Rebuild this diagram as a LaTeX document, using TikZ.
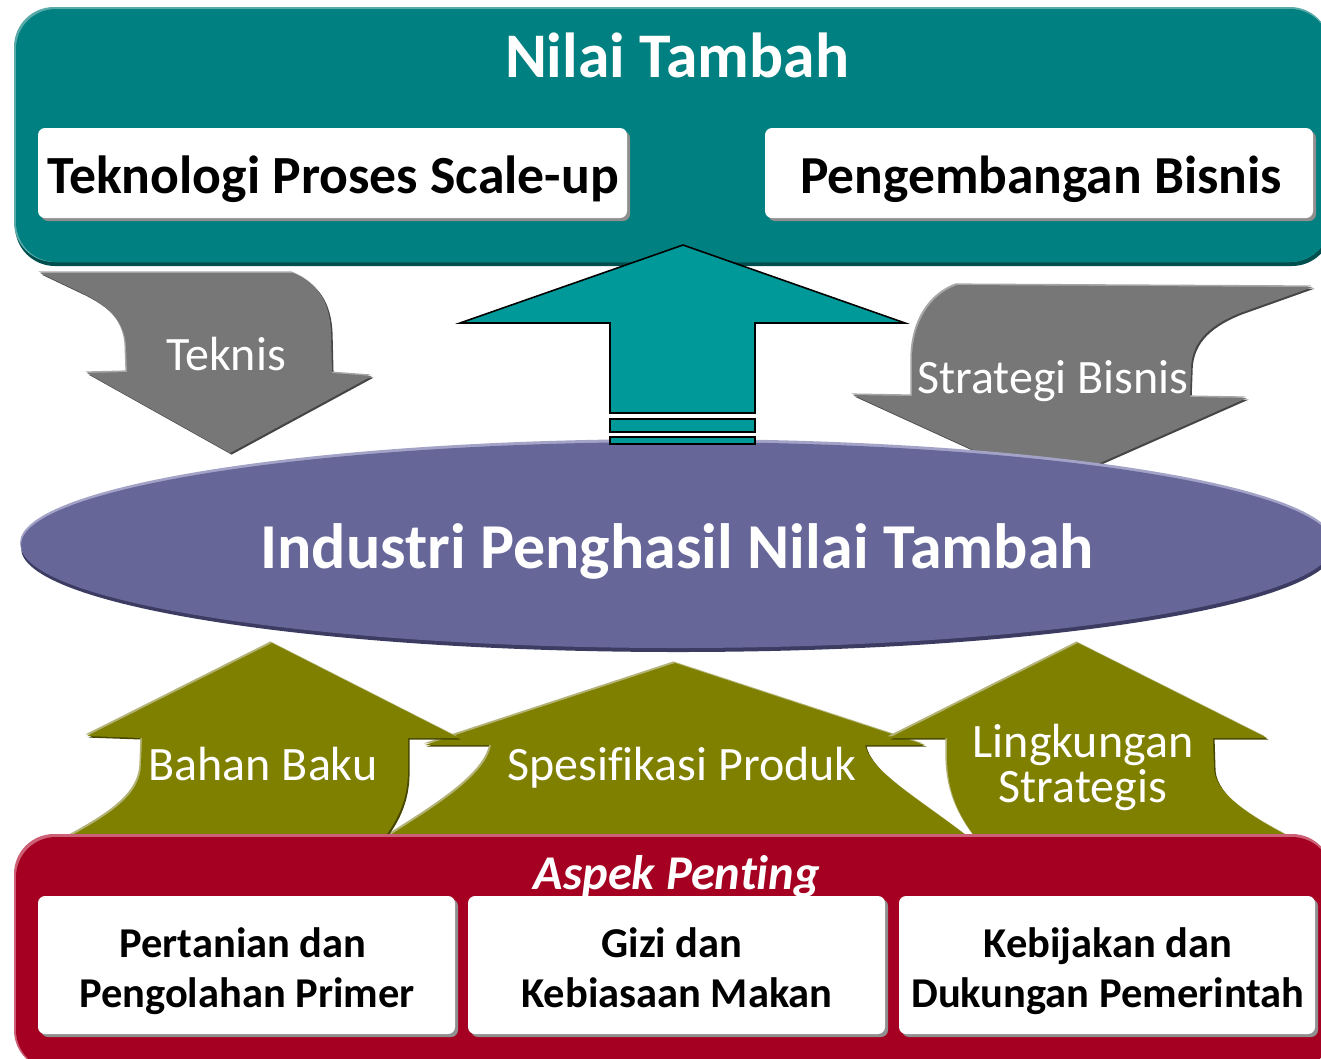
\documentclass[tikz,border=0pt]{standalone}
\usepackage{fontspec}
\setmainfont{Carlito}[Ligatures=NoCommon]
\definecolor{boxteal}{HTML}{008080}
\definecolor{boxtealdark}{HTML}{004F4F}
\definecolor{boxteallight}{HTML}{5AAAAA}
\definecolor{arrowteal}{HTML}{009999}
\definecolor{grayarrow}{HTML}{777777}
\definecolor{graylight}{HTML}{A6A6A6}
\definecolor{graydark}{HTML}{454545}
\definecolor{ellfill}{HTML}{666699}
\definecolor{elllight}{HTML}{A3A3C8}
\definecolor{elldark}{HTML}{3C3C62}
\definecolor{olive}{HTML}{808000}
\definecolor{olivelight}{HTML}{B3B377}
\definecolor{olivedark}{HTML}{474700}
\definecolor{aspekred}{HTML}{A50021}
\definecolor{aspekedge}{HTML}{CC6076}
\definecolor{cardshadow}{HTML}{8F8F8F}
\tikzset{
  whitetxt/.style={text=white, inner sep=0pt, anchor=base},
  blacktxt/.style={text=black, inner sep=0pt, anchor=base},
  arrowtxt/.style={whitetxt, font=\fontsize{48}{54}\selectfont},
  cardtxt/.style={blacktxt, font=\bfseries\fontsize{42.5}{50}\selectfont},
  card/.style={fill=white, rounded corners=7pt},
  cardshade/.style={fill=cardshadow, rounded corners=7pt},
}
% outlines of the bent block arrows
\def\pathTeknis{(40,273) -- (293,273) .. controls (316,282) and (330,300) .. (331,333) -- (332,373) -- (372,376) -- (230,453) -- (87,373) -- (127,372) -- (126,345) .. controls (124,322) and (110,306) .. (80,292) -- cycle}
\def\pathStrategi{(957,285) -- (1313,287) -- (1240,313) .. controls (1205,327) and (1191,345) .. (1191,370) -- (1190,397) -- (1247,398) -- (1050,485) -- (853,395) -- (912,396) -- (912,357) .. controls (913,322) and (930,295) .. (957,285) -- cycle}
\def\pathBahan{(272,643) -- (459,738) -- (408,738) -- (408,770) .. controls (408,800) and (398,822) .. (376,848) -- (48,848) .. controls (105,818) and (140,798) .. (141,765) -- (142,738) -- (87,736) -- cycle}
\def\pathSpesifikasi{(675,663) -- (925,745) -- (865,745) .. controls (872,775) and (930,805) .. (982,848) -- (370,848) .. controls (420,815) and (485,780) .. (491,745) -- (425,745) -- cycle}
\def\pathLingkungan{(1078,643) -- (1267,738) -- (1213,738) -- (1214,770) .. controls (1217,795) and (1250,818) .. (1312,848) -- (984,848) .. controls (960,820) and (948,795) .. (947,760) -- (947,738) -- (889,738) -- cycle}
\begin{document}
\begin{tikzpicture}[x=1pt,y=-1pt]
\useasboundingbox (0,0) rectangle (1321,1058);
\fill[white] (0,0) rectangle (1321,1058);

% ---- top panel: Nilai Tambah ----
\fill[boxtealdark, rounded corners=40pt] (15,11) rectangle (1332,266);
\fill[boxteallight, rounded corners=40pt] (14,7) rectangle (1330,262);
\fill[boxteal, rounded corners=40pt] (16,9) rectangle (1330,262);
\node[whitetxt, font=\bfseries\fontsize{63.6}{70}\selectfont] (nilai) at (677,77) {Nilai Tambah};

\fill[cardshade] (41,131) rectangle (630,221);
\fill[card] (38,128) rectangle (627,218);
\node[blacktxt, font=\bfseries\fontsize{53.7}{60}\selectfont] (tekno) at (333,193) {Teknologi Proses Scale-up};
\fill[cardshade] (768,131) rectangle (1316,221);
\fill[card] (765,128) rectangle (1313,218);
\node[blacktxt, font=\bfseries\fontsize{53.5}{60}\selectfont] (bisnis) at (1041,193) {Pengembangan Bisnis};

% ---- grey bent arrows ----
\fill[graydark, shift={(1.6,1.6)}] \pathTeknis;
\fill[graylight, shift={(-1.6,-1.6)}] \pathTeknis;
\fill[grayarrow] \pathTeknis;
\fill[graydark, shift={(1.6,1.6)}] \pathStrategi;
\fill[graylight, shift={(-1.6,-1.6)}] \pathStrategi;
\fill[grayarrow] \pathStrategi;
\node[arrowtxt] (teknis) at (226,370) {Teknis};
\node[arrowtxt] (strat) at (1053,393) {Strategi Bisnis};

% ---- central ellipse ----
\fill[elldark] (678,548) ellipse [x radius=657pt, y radius=104pt];
\fill[elllight] (677,543) ellipse [x radius=657pt, y radius=104pt];
\fill[ellfill] (677,545) ellipse [x radius=656pt, y radius=103pt];
\node[whitetxt, font=\bfseries\fontsize{64}{70}\selectfont] (industri) at (677,568) {Industri Penghasil Nilai Tambah};

% ---- teal up arrow ----
\filldraw[fill=arrowteal, draw=black, line width=1.6pt, line join=miter]
  (683,245) -- (905,323) -- (755,323) -- (755,413) -- (610,413) -- (610,323) -- (460,323) -- cycle;
\filldraw[fill=arrowteal, draw=black, line width=1.4pt] (610,419) rectangle (755,432);
\filldraw[fill=arrowteal, draw=black, line width=1.4pt] (610,437) rectangle (755,444);

% ---- olive up arrows ----
\fill[olivedark, shift={(1.6,1.6)}] \pathSpesifikasi;
\fill[olivelight, shift={(-1.6,-1.6)}] \pathSpesifikasi;
\fill[olive] \pathSpesifikasi;
\fill[olivedark, shift={(1.6,1.6)}] \pathBahan;
\fill[olivelight, shift={(-1.6,-1.6)}] \pathBahan;
\fill[olive] \pathBahan;
\fill[olivedark, shift={(1.6,1.6)}] \pathLingkungan;
\fill[olivelight, shift={(-1.6,-1.6)}] \pathLingkungan;
\fill[olive] \pathLingkungan;
\node[arrowtxt] (bahan) at (263,780) {Bahan Baku};
\node[arrowtxt] (spek) at (682,780) {Spesifikasi Produk};
\node[arrowtxt] (ling1) at (1083,757) {Lingkungan};
\node[arrowtxt] (ling2) at (1083,802) {Strategis};

% ---- bottom panel: Aspek Penting ----
\fill[aspekedge, rounded corners=40pt] (14,834) rectangle (1332,1070);
\fill[aspekred, rounded corners=40pt] (16,837) rectangle (1332,1070);
\node[whitetxt, font=\bfseries\itshape\fontsize{48.5}{54}\selectfont] (aspek) at (677,889) {Aspek Penting};

\fill[cardshade] (41,899) rectangle (458,1037);
\fill[card] (38,896) rectangle (455,1034);
\node[cardtxt] (p1a) at (243,957) {Pertanian dan};
\node[cardtxt] (p1b) at (247,1007) {Pengolahan Primer};

\fill[cardshade] (471,899) rectangle (888,1037);
\fill[card] (468,896) rectangle (885,1034);
\node[cardtxt] (p2a) at (672,957) {Gizi dan};
\node[cardtxt] (p2b) at (677,1007) {Kebiasaan Makan};

\fill[cardshade] (902,899) rectangle (1318,1037);
\fill[card] (899,896) rectangle (1315,1034);
\node[cardtxt] (p3a) at (1108,957) {Kebijakan dan};
\node[cardtxt] (p3b) at (1108,1007) {Dukungan Pemerintah};
\end{tikzpicture}
\end{document}
